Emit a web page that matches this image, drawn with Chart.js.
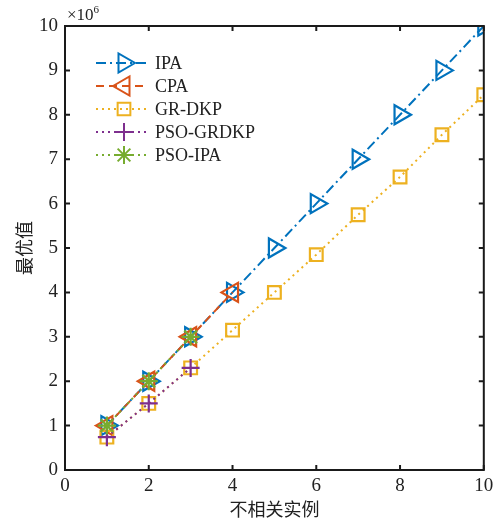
<!DOCTYPE html>
<html>
<head>
<meta charset="utf-8">
<script src="https://cdn.jsdelivr.net/npm/chart.js@4.4.1/dist/chart.umd.min.js"></script>
<style>
  html, body { margin: 0; padding: 0; background: #fff; }
  #wrap { width: 497px; height: 523px; }
</style>
</head>
<body>
<div id="wrap"><canvas id="myChart" width="497" height="523"></canvas></div>
<script>
// x values (不相关实例) and series values (最优值)
const xIPA = [1, 2, 3, 4, 5, 6, 7, 8, 9, 10];
const IPA = [1.0e6, 2.0e6, 3.0e6, 4.0e6, 5.0e6, 6.0e6, 7.0e6, 8.0e6, 9.0e6, 10.0e6];
const xCPA = [1, 2, 3, 4];
const CPA = [1.0e6, 2.0e6, 3.0e6, 4.0e6];
const xGR = [1, 2, 3, 4, 5, 6, 7, 8, 9, 10];
const GRDKP = [0.74e6, 1.5e6, 2.3e6, 3.15e6, 4.0e6, 4.85e6, 5.75e6, 6.6e6, 7.55e6, 8.45e6];
const xPSOGR = [1, 2, 3];
const PSOGRDKP = [0.74e6, 1.5e6, 2.3e6];
const xPSOIPA = [1, 2, 3];
const PSOIPA = [1.0e6, 2.0e6, 3.0e6];
const xTicks = [0, 2, 4, 6, 8, 10];
const yTicks = [0, 1, 2, 3, 4, 5, 6, 7, 8, 9, 10];

const serif = '"Liberation Serif", "Noto Sans CJK SC", serif';

function pts(xs, ys) {
  return xs.map((x, i) => ({ x: x, y: ys[i] }));
}

function series(label, xs, ys, color, dash, style, rot, r, order) {
  return {
    label: label,
    data: pts(xs, ys),
    borderColor: color,
    backgroundColor: color,
    borderWidth: 2,
    borderDash: dash,
    pointStyle: style,
    rotation: rot,
    pointRadius: r,
    pointBorderWidth: 2.2,
    pointBorderColor: color,
    pointBackgroundColor: 'rgba(0,0,0,0)',
    fill: false,
    tension: 0,
    order: order
  };
}

// frame, inward ticks, x10^6 label and legend
const boxPlugin = {
  id: 'boxPlugin',
  afterDraw(chart) {
    const ctx = chart.ctx;
    const a = chart.chartArea;
    const xs = chart.scales.x, ys = chart.scales.y;
    ctx.save();
    ctx.strokeStyle = '#1a1a1a';
    ctx.lineWidth = 2;
    ctx.setLineDash([]);
    ctx.strokeRect(a.left, a.top, a.right - a.left, a.bottom - a.top);
    ctx.beginPath();
    xTicks.forEach(t => {
      const px = xs.getPixelForValue(t);
      ctx.moveTo(px, a.bottom); ctx.lineTo(px, a.bottom - 5);
      ctx.moveTo(px, a.top); ctx.lineTo(px, a.top + 5);
    });
    yTicks.forEach(t => {
      const py = ys.getPixelForValue(t * 1e6);
      ctx.moveTo(a.left, py); ctx.lineTo(a.left + 5, py);
      ctx.moveTo(a.right, py); ctx.lineTo(a.right - 5, py);
    });
    ctx.stroke();

    // x10^6
    ctx.fillStyle = '#222';
    ctx.textBaseline = 'alphabetic';
    ctx.textAlign = 'left';
    ctx.font = '17px ' + serif;
    ctx.fillText('\u00d710', a.left + 2, a.top - 6);
    const w = ctx.measureText('\u00d710').width;
    ctx.font = '11px ' + serif;
    ctx.fillText('6', a.left + 2 + w, a.top - 13);

    // legend
    const rows = [63, 86, 109, 132, 155];
    chart.data.datasets.forEach((ds, i) => {
      const y = rows[i];
      ctx.strokeStyle = ds.borderColor;
      ctx.fillStyle = 'rgba(0,0,0,0)';
      ctx.lineWidth = 2;
      ctx.setLineDash(ds.borderDash);
      ctx.beginPath();
      ctx.moveTo(96, y); ctx.lineTo(148, y);
      ctx.stroke();
      ctx.setLineDash([]);
      Chart.helpers.drawPoint(ctx, {
        pointStyle: ds.pointStyle,
        rotation: ds.rotation,
        radius: ds.pointRadius,
        borderWidth: 2.2
      }, 124, y);
      ctx.fillStyle = '#222';
      ctx.font = '18px ' + serif;
      ctx.textBaseline = 'middle';
      ctx.fillText(ds.label, 155, y + 1);
    });
    ctx.restore();
  }
};

const ctx = document.getElementById('myChart').getContext('2d');
const myChart = new Chart(ctx, {
  type: 'line',
  data: {
    datasets: [
      series('IPA', xIPA, IPA, '#0072BD', [10, 4, 2, 4], 'triangle', 90, 11, 5),
      series('CPA', xCPA, CPA, '#D95319', [8, 5], 'triangle', -90, 11, 4),
      series('GR-DKP', xGR, GRDKP, '#EDB120', [2, 4], 'rect', 0, 9, 3),
      series('PSO-GRDKP', xPSOGR, PSOGRDKP, '#7E2F8E', [2, 4], 'cross', 0, 9, 2),
      series('PSO-IPA', xPSOIPA, PSOIPA, '#77AC30', [2, 4], 'star', 0, 9, 1)
    ]
  },
  options: {
    responsive: false,
    animation: false,
    layout: { padding: { left: 0, right: 7, top: 26, bottom: 0 } },
    plugins: {
      legend: { display: false },
      tooltip: { enabled: false }
    },
    scales: {
      x: {
        type: 'linear',
        min: 0,
        max: 10,
        afterFit(scale) {
          scale.height = 53;
          scale.paddingLeft = 0;
          scale.paddingRight = 0;
        },
        afterBuildTicks(scale) { scale.ticks = xTicks.map(v => ({ value: v })); },
        grid: { display: false, drawTicks: false },
        border: { display: false },
        ticks: { color: '#222', font: { family: serif, size: 19 }, padding: 5, maxRotation: 0 },
        title: { display: true, text: '不相关实例', color: '#222', font: { family: serif, size: 18 }, padding: { top: 0, bottom: 1 } }
      },
      y: {
        type: 'linear',
        min: 0,
        max: 10e6,
        afterFit(scale) {
          scale.width = 65;
          scale.paddingTop = 0;
          scale.paddingBottom = 0;
        },
        afterBuildTicks(scale) { scale.ticks = yTicks.map(v => ({ value: v * 1e6 })); },
        grid: { display: false, drawTicks: false },
        border: { display: false },
        ticks: {
          color: '#222',
          font: { family: serif, size: 19 },
          padding: 7,
          callback: v => String(v / 1e6)
        },
        title: { display: true, text: '最优值', color: '#222', font: { family: serif, size: 18 }, padding: { top: 15, bottom: 0 } }
      }
    }
  },
  plugins: [boxPlugin]
});
</script>
</body>
</html>
